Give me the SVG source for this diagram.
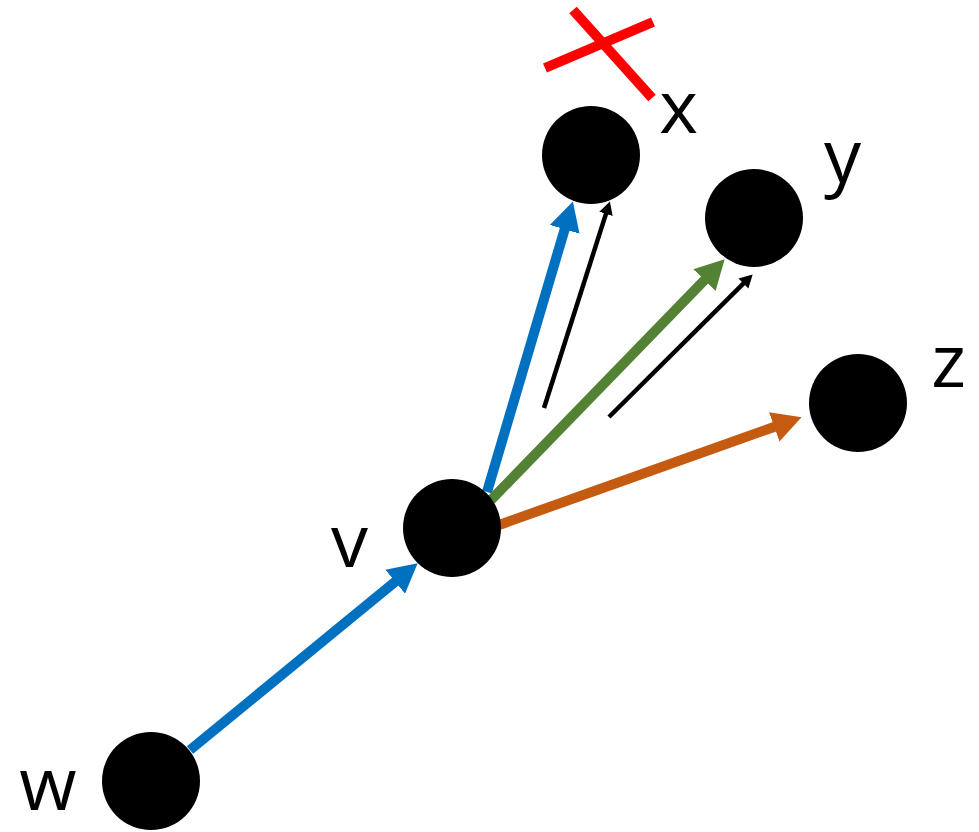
<svg xmlns="http://www.w3.org/2000/svg" width="979" height="832" viewBox="0 0 979 832">
<style>
.node{fill:#000}
.lbl{font-family:"Open Sans","Liberation Sans",sans-serif;font-size:74px;font-weight:500;fill:#000;text-anchor:middle}
.e{fill:none;stroke-linecap:butt}
.blue{stroke:#0070C0;stroke-width:10}
.green{stroke:#548235;stroke-width:10}
.orange{stroke:#C55A11;stroke-width:10}
.thin{stroke:#000;stroke-width:4.5}
.cross{stroke:#FF0000;stroke-width:10}
</style>
<defs>
<marker id="hb" markerUnits="userSpaceOnUse" markerWidth="30" markerHeight="32" viewBox="0 -16 30 32" refX="0.5" refY="0" orient="auto"><path d="M0,-15.5 L29,0 L0,15.5 z" fill="#0070C0"/></marker>
<marker id="hg" markerUnits="userSpaceOnUse" markerWidth="30" markerHeight="32" viewBox="0 -16 30 32" refX="0.5" refY="0" orient="auto"><path d="M0,-15.5 L29,0 L0,15.5 z" fill="#548235"/></marker>
<marker id="ho" markerUnits="userSpaceOnUse" markerWidth="30" markerHeight="32" viewBox="0 -16 30 32" refX="0.5" refY="0" orient="auto"><path d="M0,-15.5 L29,0 L0,15.5 z" fill="#C55A11"/></marker>
<marker id="hk" markerUnits="userSpaceOnUse" markerWidth="14" markerHeight="16" viewBox="0 -8 14 16" refX="0.5" refY="0" orient="auto"><path d="M0,-7 L13,0 L0,7 z" fill="#000"/></marker>
</defs>
<g id="connectors">
<line class="e blue" x1="190" y1="750" x2="395.6" y2="581.4" marker-end="url(#hb)"/>
<line class="e blue" x1="487" y1="492" x2="564.8" y2="228.8" marker-end="url(#hb)"/>
<line class="e thin" x1="544" y1="408" x2="606.1" y2="213.4" marker-end="url(#hk)"/>
<line class="e green" x1="491" y1="500" x2="704.8" y2="279.8" marker-end="url(#hg)"/>
<line class="e thin" x1="609" y1="417" x2="743.8" y2="283.2" marker-end="url(#hk)"/>
<line class="e orange" x1="499" y1="525" x2="774.7" y2="426.7" marker-end="url(#ho)"/>
</g>
<g id="node-x"><circle class="node" cx="591" cy="155" r="49"/><text class="lbl" x="678.5" y="133">x</text></g>
<g id="node-y"><circle class="node" cx="754" cy="218" r="49"/><text class="lbl" x="842.5" y="182">y</text></g>
<g id="node-z"><circle class="node" cx="858" cy="403" r="49"/><text class="lbl" x="948.5" y="387">z</text></g>
<g id="node-v"><circle class="node" cx="452" cy="528" r="49"/><text class="lbl" x="349.5" y="567">v</text></g>
<g id="node-w"><circle class="node" cx="151" cy="781" r="49"/><text class="lbl" x="48" y="810">w</text></g>
<g id="cross">
<line class="cross" x1="545" y1="68" x2="653" y2="22"/>
<line class="cross" x1="573" y1="10" x2="652" y2="98"/>
</g>
</svg>
